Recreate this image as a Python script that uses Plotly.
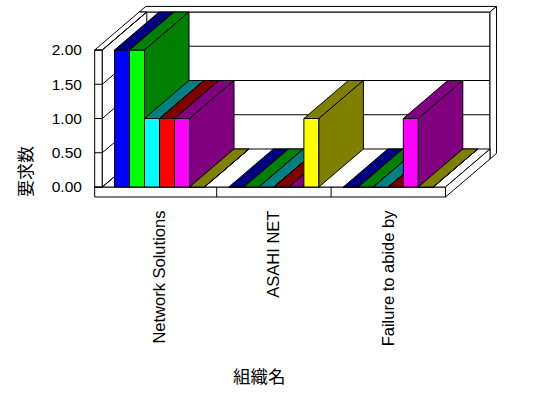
import plotly.graph_objects as go

# ---- data ----
categories = ["Network Solutions", "ASAHI NET", "Failure to abide by"]
series_1 = [2, 0, 0]
series_2 = [2, 0, 0]
series_3 = [1, 0, 0]
series_4 = [1, 0, 0]
series_5 = [1, 0, 1]
series_6 = [0, 1, 0]
y_ticks = [0, 0.5, 1.0, 1.5, 2.0]
x_title = "組織名"
y_title = "要求数"

series = [series_1, series_2, series_3, series_4, series_5, series_6]
front_colors = ["#0000FF", "#00FF00", "#00FFFF", "#FF0000", "#FF00FF", "#FFFF00"]
dark_colors = ["#000080", "#008000", "#008080", "#800000", "#800080", "#808000"]

# ---- geometry (pixel calibration) ----
W, H = 548, 398
X0PX, XS = 102.3, 114.4      # pixel of x=-0.5, pixels per category
Y0PX, YS = 187.0, 68.5       # pixel of y=0, pixels per unit
L, R, T, B = 90, 500, 2, 200
DX = 44.5 / XS               # depth offset in data units
DY = 38.0 / YS
WALL_T = 7.6 / XS            # wall thickness
FLOOR_H = 10.0 / YS
BACK_F = 0.147
ymax = max(y_ticks)

xr = [-0.5 - (X0PX - L) / XS, -0.5 + (R - X0PX) / XS]
yr = [-(B - Y0PX) / YS, (Y0PX - T) / YS]

def P(x, d, y):
    return x + d * DX, y + d * DY

fig = go.Figure()

def poly(pts, fill):
    xs = [p[0] for p in pts] + [pts[0][0]]
    ys = [p[1] for p in pts] + [pts[0][1]]
    fig.add_trace(go.Scatter(x=xs, y=ys, mode="lines", fill="toself",
                             fillcolor=fill, line=dict(color="black", width=1),
                             hoverinfo="skip", showlegend=False))

def line(pts):
    fig.add_trace(go.Scatter(x=[p[0] for p in pts], y=[p[1] for p in pts],
                             mode="lines", line=dict(color="black", width=1),
                             hoverinfo="skip", showlegend=False))

def box(x0, x1, d0, d1, y0, y1, cf, ct, cs):
    poly([P(x0, d0, y0), P(x1, d0, y0), P(x1, d0, y1), P(x0, d0, y1)], cf)
    poly([P(x0, d0, y1), P(x1, d0, y1), P(x1, d1, y1), P(x0, d1, y1)], ct)
    poly([P(x1, d0, y0), P(x1, d1, y0), P(x1, d1, y1), P(x1, d0, y1)], cs)

n = len(categories)
xl, xrgt = -0.5, n - 0.5

# back wall
box(xl - WALL_T, xrgt, 1, 1 + BACK_F, -FLOOR_H, ymax, "white", "white", "white")
for v in y_ticks[1:-1]:
    line([P(xl, 1, v), P(xrgt, 1, v)])
# floor
box(xl - WALL_T, xrgt, 0, 1, -FLOOR_H, 0, "white", "white", "white")
for i in range(1, n):
    line([P(i - 0.5, 0, -FLOOR_H), P(i - 0.5, 0, 0)])
# left wall
box(xl - WALL_T, xl, 0, 1, 0, ymax, "white", "white", "white")
for v in y_ticks:
    line([P(xl - WALL_T, 0, v), P(xl, 0, v)])
    line([P(xl, 0, v), P(xl, 1, v)])

# bars
nb = len(series)
bw = 15.0 / XS
for i in range(n):
    start = i - nb * bw / 2
    for j in range(nb):
        v = series[j][i]
        x0 = start + j * bw
        box(x0, x0 + bw, 0, 1, 0, v, front_colors[j], dark_colors[j], dark_colors[j])

font_lat = "Liberation Sans, Arial, sans-serif"
font_cjk = "Noto Sans CJK JP, sans-serif"

fig.update_layout(
    width=W, height=H, autosize=False,
    margin=dict(l=L, r=W - R, t=T, b=H - B, pad=0),
    paper_bgcolor="white", plot_bgcolor="white",
    showlegend=False,
    xaxis=dict(range=xr, showgrid=False, zeroline=False, showline=False,
               tickmode="array", tickvals=list(range(n)), ticktext=categories,
               tickangle=-90, ticks="outside", ticklen=3, tickcolor="rgba(0,0,0,0)",
               tickfont=dict(family=font_lat, size=16.5, color="black"), fixedrange=True),
    yaxis=dict(range=yr, showgrid=False, zeroline=False, showline=False,
               tickmode="array", tickvals=y_ticks,
               ticktext=[f"{v:.2f}" for v in y_ticks],
               ticks="outside", ticklen=1, tickcolor="rgba(0,0,0,0)",
               ticklabelstandoff=3,
               tickfont=dict(family=font_lat, size=15.5, color="black"), fixedrange=True),
    annotations=[
        dict(text=x_title, xref="paper", yref="paper",
             x=(259 - L) / (R - L), y=(B - 375) / (B - T),
             showarrow=False, xanchor="center", yanchor="middle",
             font=dict(family=font_cjk, size=17.5, color="black")),
        dict(text=y_title, xref="paper", yref="paper", textangle=-90,
             x=(24 - L) / (R - L), y=(B - 172) / (B - T),
             showarrow=False, xanchor="center", yanchor="middle",
             font=dict(family=font_cjk, size=17, color="black")),
    ],
)

fig.write_html("out.html", config={"displayModeBar": False, "staticPlot": True},
               post_script="document.body.style.margin='0';document.body.style.overflow='hidden';")
